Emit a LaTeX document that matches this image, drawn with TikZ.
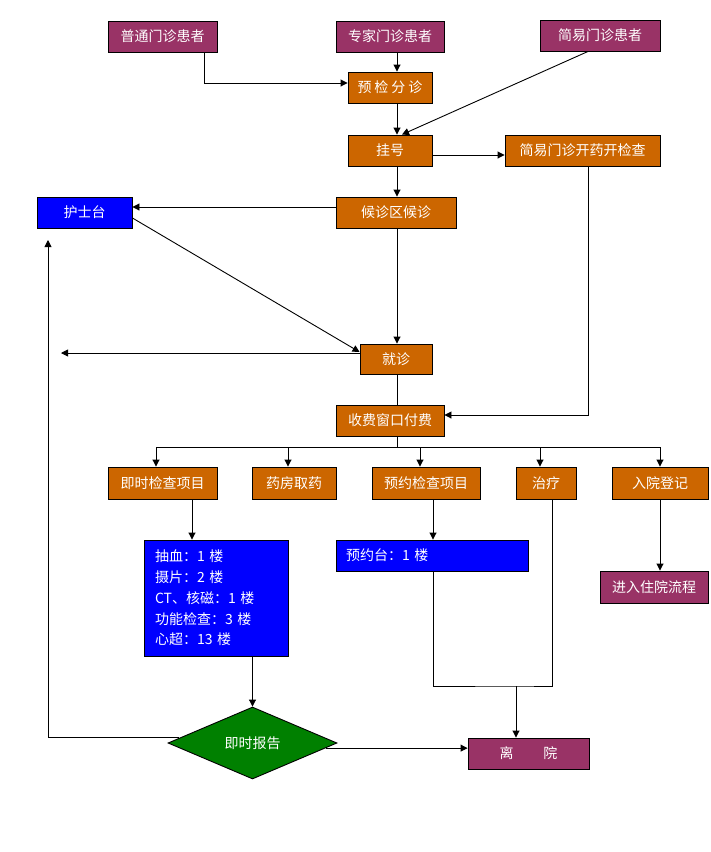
\documentclass[tikz,border=0pt]{standalone}
\usepackage{fontspec}
\setmainfont{Noto Sans CJK SC}
\usetikzlibrary{arrows.meta,shapes.geometric}
\definecolor{cpurple}{HTML}{993366}
\definecolor{corange}{HTML}{CC6600}
\definecolor{cblue}{HTML}{0000FF}
\definecolor{cgreen}{HTML}{008000}
\begin{document}
\begin{tikzpicture}[x=1pt,y=-1pt,
  box/.style={draw=black,line width=0.9pt,text=white,inner sep=0pt,font=\fontsize{14}{16}\selectfont,minimum height=31pt},
  pbox/.style={box,fill=cpurple},
  obox/.style={box,fill=corange},
  bbox/.style={box,fill=cblue},
  arr/.style={-{Triangle[length=7pt,width=7pt]},line width=0.9pt},
  ln/.style={line width=0.9pt}]
\useasboundingbox[fill=white] (0,0) rectangle (711,852);
% nodes
\node[pbox,minimum width=109pt] (p1) at (162.5,36.5) {普通门诊患者};
\node[pbox,minimum width=108pt] (p2) at (390,36.5) {专家门诊患者};
\node[pbox,minimum width=120pt] (p3) at (600,35.5) {简易门诊患者};
\node[obox,minimum width=84pt] (yj) at (390,87.5) {预\hspace{3pt}检\hspace{3pt}分\hspace{3pt}诊};
\node[obox,minimum width=84pt] (gh) at (390,150.5) {挂号};
\node[obox,minimum width=155pt] (jk) at (582.5,150.5) {简易门诊开药开检查};
\node[bbox,minimum width=95pt] (hs) at (84.5,212.5) {护士台};
\node[obox,minimum width=120pt] (hz) at (396,212.5) {候诊区候诊};
\node[obox,minimum width=72pt,minimum height=30pt] (jz) at (396,359) {就诊};
\node[obox,minimum width=108pt] (sf) at (390,420.5) {收费窗口付费};
\node[obox,minimum width=109pt,minimum height=32pt] (jc) at (162.5,483) {即时检查项目};
\node[obox,minimum width=84pt,minimum height=32pt] (yf) at (294,483) {药房取药};
\node[obox,minimum width=108pt,minimum height=32pt] (yy) at (426,483) {预约检查项目};
\node[obox,minimum width=60pt,minimum height=32pt] (zl) at (546,483) {治疗};
\node[obox,minimum width=96pt,minimum height=32pt] (ry) at (660,483) {入院登记};
\node[bbox,minimum height=116pt,text width=122pt,inner xsep=11pt,align=left,font=\fontsize{14}{20.7}\selectfont] (cx) at (216,598) {抽血：1 楼\\摄片：2 楼\\CT、核磁：1 楼\\功能检查：3 楼\\心超：13 楼};
\node[bbox,text width=172pt,inner xsep=10pt,align=left] (yt) at (432,555.5) {预约台：1 楼};
\node[pbox,minimum width=108pt,minimum height=32pt] (jr) at (654,587) {进入住院流程};
\node[diamond,draw=black,line width=0.9pt,fill=cgreen,text=white,minimum width=169pt,minimum height=72pt,inner sep=0pt,font=\fontsize{14}{16}\selectfont] (jb) at (252.5,743) {即时报告};
\node[pbox,minimum width=121pt] (ly) at (528.5,753.5) {离\hspace{30pt}院};
% free ends
\coordinate (lend) at (61,353);
\coordinate (uend) at (48,240);
\coordinate (bus) at (397,447);
\coordinate (jn) at (516,686);
% connectors
\draw[arr] ([xshift=41.5pt]p1.south) |- ([yshift=4.5pt]yj.west);
\draw[arr] ([xshift=7pt]yj.north |- p2.south) -- ([xshift=7pt]yj.north);
\draw[arr] ([xshift=7pt]yj.south) -- ([xshift=7pt]gh.north);
\draw[arr] ([xshift=-12pt]p3.south) -- ([xshift=12pt]gh.north);
\draw[arr] ([yshift=-4.5pt]gh.east) -- ([yshift=-4.5pt]jk.west);
\draw[arr] ([xshift=7pt]gh.south) -- ([xshift=1pt]hz.north);
\draw[arr] ([yshift=5.5pt]hz.west) -- ([yshift=5.5pt]hs.east);
\draw[arr] ([yshift=-5.5pt]hs.east) -- ([yshift=7pt]jz.west);
\draw[arr] ([xshift=1pt]hz.south) -- ([xshift=1pt]jz.north);
\draw[arr] ([yshift=6pt]jz.west) -- (lend);
\draw[ln] ([xshift=1pt]jz.south) -- ([xshift=1pt]jz.south |- sf.north);
\draw[arr] ([xshift=5.5pt]jk.south) |- ([yshift=5.5pt]sf.east);
\draw[ln] ([xshift=7pt]sf.south) -- (bus);
\draw[arr] (bus) -| ([xshift=-6.5pt]jc.north);
\draw[arr] (bus) -| ([xshift=-6pt]yf.north);
\draw[arr] (bus) -| ([xshift=-6pt]yy.north);
\draw[arr] (bus) -| ([xshift=-6pt]zl.north);
\draw[arr] (bus) -| (ry.north);
\draw[arr] ([xshift=29.5pt]jc.south) -- ([xshift=29.5pt]jc.south |- cx.north);
\draw[arr] ([xshift=7pt]yy.south) -- ([xshift=7pt]yy.south |- yt.north);
\draw[arr] (ry.south) -- (ry.south |- jr.north);
\draw[arr] (cx.south -| jb.north) -- (jb.north);
\draw[ln] ([xshift=1pt]yt.south) |- (jn) -| ([xshift=6pt]zl.south);
\draw[arr] (jn) -- (jn |- ly.north);
\draw[arr] (jb.176) -| (uend);
\draw[arr] (jb.-4) -- (jb.-4 -| ly.west);
\end{tikzpicture}
\end{document}
